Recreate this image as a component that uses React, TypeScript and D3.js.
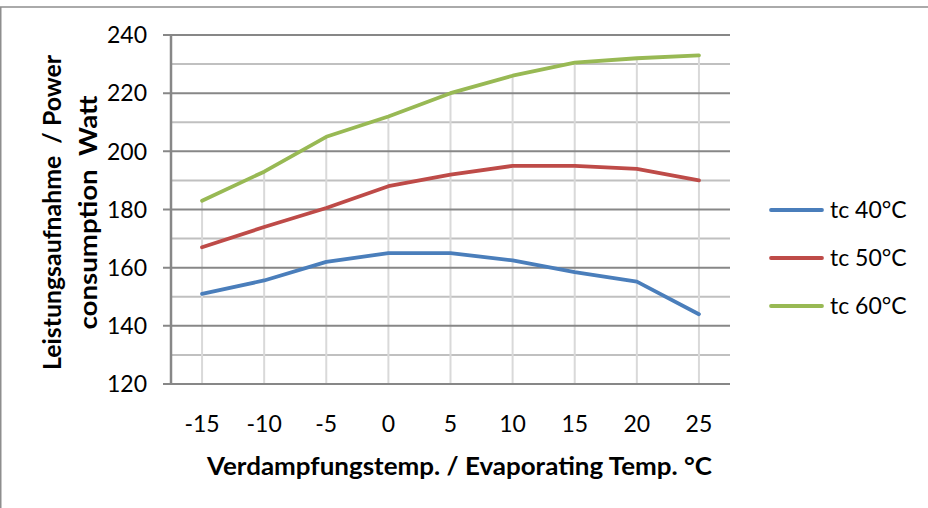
import React from "react";
import * as d3 from "d3";

const categories = [-15, -10, -5, 0, 5, 10, 15, 20, 25];
const tc40 = [151, 155.6, 162, 165, 165, 162.5, 158.5, 155.2, 144];
const tc50 = [167, 174, 180.5, 188, 192, 195, 195, 194, 190];
const tc60 = [183, 193, 205, 212, 220, 226, 230.5, 232, 233];
const seriesNames = ["tc 40°C", "tc 50°C", "tc 60°C"];
const seriesColors = ["#4a7ebb", "#be4b48", "#98b954"];
const yTicks = [120, 140, 160, 180, 200, 220, 240];
const yMinor = [130, 150, 170, 190, 210, 230];
const xTitle = "Verdampfungstemp. / Evaporating Temp. °C";
const yTitle1 = "Leistungsaufnahme  / Power";
const yTitle2 = "consumption  Watt";

const W = 928;
const H = 508;
const left = 171;
const right = 730;
const top = 35;
const bottom = 384;
const FONT = "Lato, 'Open Sans', sans-serif";

export default function App() {
  const series = [tc40, tc50, tc60];
  const x = d3.scaleBand<number>().domain(categories).range([left, right]);
  const cx = (c: number) => (x(c) as number) + x.bandwidth() / 2;
  const y = d3.scaleLinear().domain([120, 240]).range([bottom, top]);
  const line = d3
    .line<number>()
    .x((_, i) => cx(categories[i]))
    .y((d) => y(d));
  const maxVals = categories.map((_, i) => d3.max(series, (s) => s[i]) as number);
  const pre = { whiteSpace: "pre" as const };

  return (
    <svg
      width={W}
      height={H}
      style={{ position: "absolute", left: 0, top: 0, background: "#fff" }}
      fontFamily={FONT}
    >
      <rect x={0} y={0} width={W} height={H} fill="#fff" />
      <rect x={0.75} y={7} width={W + 20} height={H + 20} fill="none" stroke="#8e8e8e" strokeWidth={1.5} />
      {yMinor.map((v) => (
        <line key={"m" + v} x1={left} x2={right} y1={y(v)} y2={y(v)} stroke="#c0c0c0" strokeWidth={2} />
      ))}
      {categories.map((c, i) => (
        <line key={"d" + c} x1={cx(c)} x2={cx(c)} y1={y(maxVals[i])} y2={bottom} stroke="#d9d9d9" strokeWidth={2} />
      ))}
      {yTicks.map((v) => (
        <line key={"g" + v} x1={left - 8} x2={right} y1={y(v)} y2={y(v)} stroke="#878787" strokeWidth={2} />
      ))}
      <line x1={left} x2={left} y1={top - 1} y2={bottom + 1} stroke="#878787" strokeWidth={2.5} />
      {series.map((s, k) => (
        <path
          key={"s" + k}
          d={line(s) as string}
          fill="none"
          stroke={seriesColors[k]}
          strokeWidth={3.8}
          strokeLinejoin="round"
          strokeLinecap="round"
        />
      ))}
      {yTicks.map((v) => (
        <text key={"yt" + v} x={147} y={y(v)} dy="0.36em" textAnchor="end" fontSize={23} fill="#000">
          {v}
        </text>
      ))}
      {categories.map((c) => (
        <text key={"xt" + c} x={cx(c)} y={431.5} textAnchor="middle" fontSize={23} fill="#000">
          {c}
        </text>
      ))}
      <text
        x={459.5}
        y={475}
        textAnchor="middle"
        fontSize={24.5}
        fontWeight="bold"
        fill="#000"
        textLength={505}
        lengthAdjust="spacingAndGlyphs"
        style={pre}
      >
        {xTitle}
      </text>
      <text
        transform={`translate(61,212.5) rotate(-90)`}
        textAnchor="middle"
        fontSize={24.5}
        fontWeight="bold"
        fill="#000"
        textLength={315}
        lengthAdjust="spacingAndGlyphs"
        style={pre}
      >
        {yTitle1}
      </text>
      <text
        transform={`translate(97,212.5) rotate(-90)`}
        textAnchor="middle"
        fontSize={24.5}
        fontWeight="bold"
        fill="#000"
        textLength={234}
        lengthAdjust="spacingAndGlyphs"
        style={pre}
      >
        {yTitle2}
      </text>
      {seriesNames.map((n, k) => {
        const ly = 210 + k * 48;
        return (
          <g key={"l" + k}>
            <line x1={771} x2={822} y1={ly} y2={ly} stroke={seriesColors[k]} strokeWidth={3.8} strokeLinecap="round" />
            <text x={830} y={ly} dy="0.36em" fontSize={23} fill="#000">
              {n}
            </text>
          </g>
        );
      })}
    </svg>
  );
}
